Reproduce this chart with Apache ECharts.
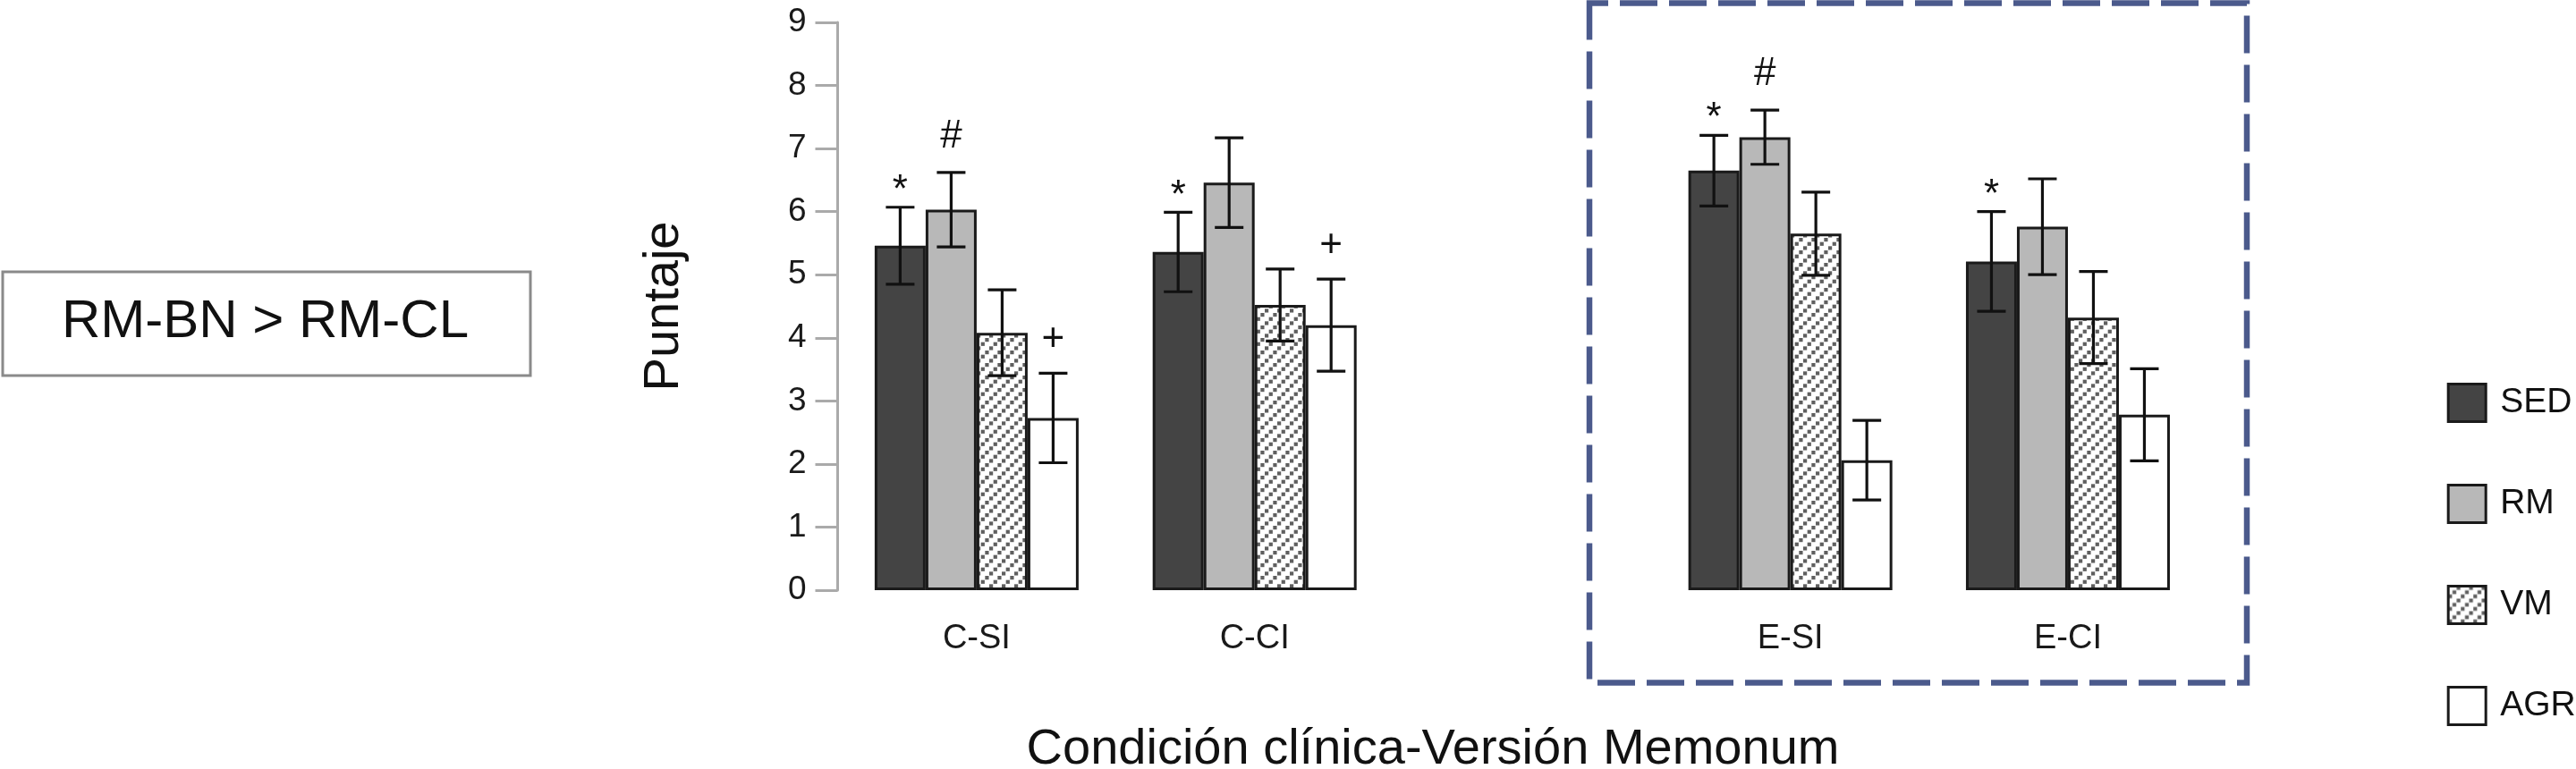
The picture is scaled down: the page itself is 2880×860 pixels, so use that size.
<!DOCTYPE html>
<html>
<head>
<meta charset="utf-8">
<script src="https://cdn.jsdelivr.net/npm/echarts@6/dist/echarts.min.js"></script>
<style>
  html, body { margin: 0; padding: 0; background: #ffffff; }
  #chart { width: 2880px; height: 860px; }
</style>
</head>
<body>
<div id="chart"></div>
<script>
// ---------------- data ----------------
const categories = ['C-SI', 'C-CI', 'E-SI', 'E-CI'];
const seriesNames = ['SED', 'RM', 'VM', 'AGR'];
const sed = [5.46, 5.36, 6.65, 5.21];
const rm  = [6.03, 6.46, 7.18, 5.76];
const vm  = [4.08, 4.52, 5.65, 4.32];
const agr = [2.73, 4.20, 2.06, 2.78];
const sedErr = [0.61, 0.63, 0.56, 0.79];
const rmErr  = [0.59, 0.71, 0.43, 0.76];
const vmErr  = [0.68, 0.57, 0.66, 0.73];
const agrErr = [0.71, 0.73, 0.63, 0.73];
const sedMark = ['*', '*', '*', '*'];
const rmMark  = ['#', '', '#', ''];
const vmMark  = ['', '', '', ''];
const agrMark = ['+', '+', '', ''];
const yTicks = [0, 9, 1]; // min, max, interval
const yTitle = 'Puntaje';
const xTitle = 'Condición clínica-Versión Memonum';
const noteText = 'RM-BN > RM-CL';

// ---------------- styles ----------------
const FONT = 'Liberation Sans, Arial, Helvetica, sans-serif';
const BAR_W = 57;
const CAP_W = 32;
const EDGE = '#1a1a1a';
const markOffset = { '*': 18, '#': 40, '+': 37 };

// hatch pattern for VM
const tile = document.createElement('canvas');
tile.width = 14; tile.height = 14;
(function () {
  const c = tile.getContext('2d');
  c.fillStyle = '#ffffff';
  c.fillRect(0, 0, 14, 14);
  c.fillStyle = '#5f5f5f';
  const step = 14 / 3;
  for (let j = 0; j < 3; j++) {
    c.fillRect(j * step, 14 - (j + 1) * step, 4.2, 4.2);
  }
})();
const fills = ['#444444', '#b8b8b8', { image: tile, repeat: 'repeat' }, '#ffffff'];

const means = [sed, rm, vm, agr];
const errs = [sedErr, rmErr, vmErr, agrErr];
const marks = [sedMark, rmMark, vmMark, agrMark];

const groups = [categories.slice(0, 2), categories.slice(2, 4)];

const series = [];
groups.forEach(function (cats, g) {
  seriesNames.forEach(function (name, k) {
    series.push({
      name: name,
      type: 'bar',
      xAxisIndex: g,
      yAxisIndex: g,
      barWidth: BAR_W,
      barGap: '0%',
      itemStyle: { color: fills[k], borderColor: EDGE, borderWidth: 3 },
      emphasis: { disabled: true },
      data: means[k].slice(g * 2, g * 2 + 2),
      z: 2
    });
  });
  const errData = [];
  const markList = [];
  for (let c = 0; c < 2; c++) {
    for (let k = 0; k < 4; k++) {
      errData.push([c, k, means[k][g * 2 + c], errs[k][g * 2 + c]]);
      markList.push(marks[k][g * 2 + c]);
    }
  }
  series.push({
    type: 'custom',
    xAxisIndex: g,
    yAxisIndex: g,
    z: 5,
    silent: true,
    encode: { x: 0, y: 2 },
    data: errData,
    renderItem: function (params, api) {
      const cat = api.value(0), k = api.value(1), m = api.value(2), e = api.value(3);
      const base = api.coord([cat, m]);
      const x = base[0] + (k - 1.5) * BAR_W;
      const yT = api.coord([cat, m + e])[1];
      const yB = api.coord([cat, m - e])[1];
      const ls = { stroke: '#111111', lineWidth: 3.2 };
      const children = [
        { type: 'line', shape: { x1: x, y1: yT, x2: x, y2: yB }, style: ls },
        { type: 'line', shape: { x1: x - CAP_W / 2, y1: yT, x2: x + CAP_W / 2, y2: yT }, style: ls },
        { type: 'line', shape: { x1: x - CAP_W / 2, y1: yB, x2: x + CAP_W / 2, y2: yB }, style: ls }
      ];
      const mk = markList[params.dataIndex];
      if (mk) {
        children.push({
          type: 'text',
          style: {
            text: mk, x: x, y: yT - markOffset[mk],
            fill: '#111111', fontSize: 44, fontFamily: FONT,
            align: 'center', verticalAlign: 'middle'
          }
        });
      }
      return { type: 'group', children: children };
    }
  });
});

const axisLabelStyle = { fontSize: 38, color: '#1a1a1a', fontFamily: FONT, margin: 36 };

const option = {
  animation: false,
  backgroundColor: '#ffffff',
  textStyle: { fontFamily: FONT },
  grid: [
    { left: 936.5, top: 25, width: 621.6, height: 635, containLabel: false, outerBoundsMode: 'none' },
    { left: 1846.5, top: 25, width: 620.6, height: 635, containLabel: false, outerBoundsMode: 'none' }
  ],
  xAxis: groups.map(function (cats, g) {
    return {
      type: 'category', gridIndex: g, data: cats,
      axisLine: { show: false }, axisTick: { show: false },
      splitLine: { show: false },
      axisLabel: axisLabelStyle
    };
  }),
  yAxis: [
    {
      type: 'value', gridIndex: 0, min: yTicks[0], max: yTicks[1], interval: yTicks[2],
      name: yTitle, nameLocation: 'middle', nameRotate: 90, nameGap: 166,
      nameTextStyle: { fontSize: 56, color: '#111111', fontFamily: FONT },
      axisLine: { show: true, lineStyle: { color: '#aaaaaa', width: 3 } },
      axisTick: { show: true, length: 25, lineStyle: { color: '#aaaaaa', width: 3 } },
      splitLine: { show: false },
      axisLabel: { fontSize: 37, color: '#1a1a1a', fontFamily: FONT, margin: 35 }
    },
    {
      type: 'value', gridIndex: 1, min: yTicks[0], max: yTicks[1], interval: yTicks[2],
      show: false, splitLine: { show: false }
    }
  ],
  legend: {
    orient: 'vertical', left: 2735.7, top: 428, padding: 0,
    itemWidth: 42, itemHeight: 42, itemGap: 68,
    icon: 'rect', selectedMode: false,
    data: seriesNames,
    itemStyle: { borderColor: EDGE, borderWidth: 3 },
    textStyle: { fontSize: 39, color: '#111111', fontFamily: FONT, padding: [0, 0, 0, 11] }
  },
  graphic: [
    {
      type: 'rect', left: 1.5, top: 302.5,
      shape: { width: 590, height: 116 },
      style: { fill: '#ffffff', stroke: '#8a8a8a', lineWidth: 3 }
    },
    {
      type: 'text', x: 296.5, y: 360,
      style: { text: noteText, fontSize: 60, fontFamily: FONT, fill: '#111111', align: 'center', verticalAlign: 'middle' }
    },
    {
      type: 'text', x: 1602, y: 839,
      style: { text: xTitle, fontSize: 56, fontFamily: FONT, fill: '#111111', align: 'center', verticalAlign: 'middle' }
    },
    {
      type: 'rect', x: 1777, y: 3.5, z: 10, silent: true,
      shape: { x: 0, y: 0, width: 735, height: 760 },
      style: { fill: 'none', stroke: '#4b5a8c', lineWidth: 6.5, lineDash: [42, 13], lineDashOffset: 21 }
    }
  ],
  series: series
};

const chart = echarts.init(document.getElementById('chart'));
chart.setOption(option);
</script>
</body>
</html>
